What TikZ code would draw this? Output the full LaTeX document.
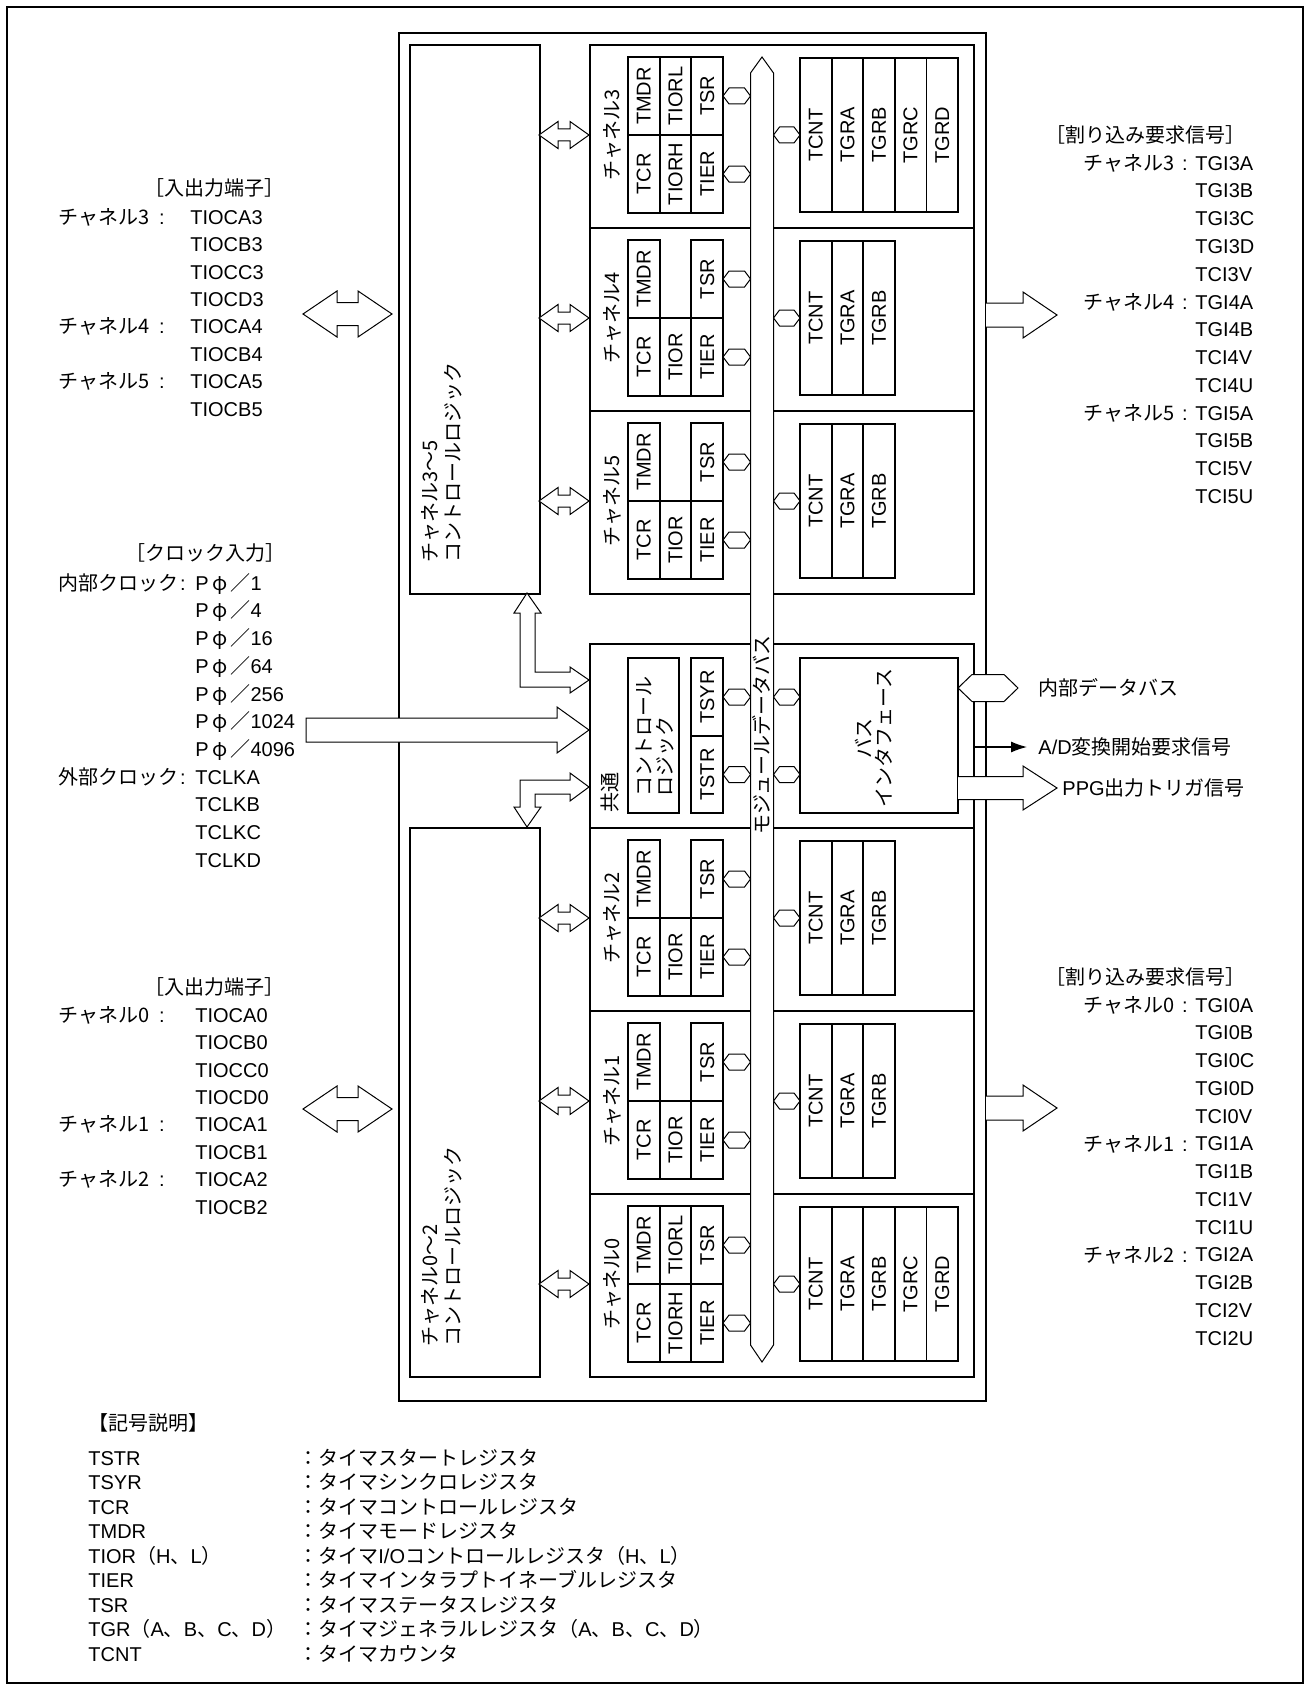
\documentclass[tikz,border=0pt]{standalone}
\usepackage{fontspec}
\setmainfont{Liberation Sans}
\newfontfamily\jp{Noto Sans CJK JP}
\usetikzlibrary{arrows.meta}

\tikzset{
  px/.style 2 args={minimum width=#1*0.5pt, minimum height=#2*0.5pt},
  box/.style={draw, line width=1pt, inner sep=0pt},
  reg/.style={draw, line width=0.9pt, rotate=90, inner sep=0pt},
  thinl/.style={line width=0.5pt},
  rtxt/.style={rotate=90, inner sep=0pt},
  lst/.style={anchor=west, inner sep=0pt, text height=7.2pt, text depth=0pt},
  hdr/.style={inner sep=0pt, text height=7.2pt, text depth=0pt},
}
% small bus tap: x1, x2, y
\newcommand\hexcon[3]{\draw[thinl, fill=white] (#1,{#3}) -- ({#1+6},{#3-8}) -- ({#2-6},{#3-8}) -- (#2,{#3}) -- ({#2-6},{#3+8}) -- ({#1+6},{#3+8}) -- cycle;}
% hollow two-way arrow: x1, x2, y, head length, head half, shaft half
\newcommand\dblarr[6]{\draw[thinl, fill=white] (#1,{#3}) -- ({#1+#4},{#3-#5}) -- ({#1+#4},{#3-#6}) -- ({#2-#4},{#3-#6}) -- ({#2-#4},{#3-#5}) -- (#2,{#3}) -- ({#2-#4},{#3+#5}) -- ({#2-#4},{#3+#6}) -- ({#1+#4},{#3+#6}) -- ({#1+#4},{#3+#5}) -- cycle;}

\begin{document}
\begin{tikzpicture}[x=0.5pt, y=-0.5pt, every node/.style={font=\fontsize{10}{12}\selectfont}]
\fill[white] (0,0) rectangle (1310,1686);
\useasboundingbox (0,0) rectangle (1310,1686);
\draw[line width=1pt] (7,7) rectangle (1303,1683);
% TPU block and the two control logic boxes
\node[box, px={587}{1368}, anchor=north west] (tpu) at (398,32) {};
\node[box, px={130}{549}, anchor=north west] (ctlA) at (409,44) {};
\node[box, px={130}{549}, anchor=north west] (ctlB) at (409,827) {};
\node[rtxt, anchor=west, align=left, font={\jp\fontsize{10}{11.5}\selectfont}] (ctlAtxt) at (441.5,563) {チャネル3〜5\\コントロールロジック};
\node[rtxt, anchor=west, align=left, font={\jp\fontsize{10}{11.5}\selectfont}] (ctlBtxt) at (441.5,1347) {チャネル0〜2\\コントロールロジック};
% channel sections
\foreach \n/\T/\full in {3/44/1,4/227/0,5/410/0,2/827/0,1/1010/0,0/1193/1}{
  \node[box, px={384}{183}, anchor=north west] (sec\n) at (589,\T) {};
  \node[rtxt] (lab\n) at (612,{\T+91}) {\jp チャネル\n};
  \node[reg, px={78}{31.7}] (tmdr\n) at (643.8,{\T+52}) {TMDR};
  \node[reg, px={78}{31.7}] (tcr\n) at (643.8,{\T+130}) {TCR};
  \node[reg, px={78}{31.7}] (tsr\n) at (707.2,{\T+52}) {TSR};
  \node[reg, px={78}{31.7}] (tier\n) at (707.2,{\T+130}) {TIER};
  \ifnum\full=1
    \node[reg, px={78}{31.7}] (tiorl\n) at (675.5,{\T+52}) {TIORL};
    \node[reg, px={78}{31.7}] (tiorh\n) at (675.5,{\T+130}) {TIORH};
    \def\tgrs{TCNT,TGRA,TGRB,TGRC,TGRD}
  \else
    \node[reg, px={78}{31.7}] (tior\n) at (675.5,{\T+130}) {TIOR};
    \def\tgrs{TCNT,TGRA,TGRB}
  \fi
  \foreach \r [count=\i] in \tgrs
    \node[reg, px={154}{31.6}] (\r\n) at ({800+31.6*(\i-0.5)},{\T+91}) {\r};
}
% common section
\node[box, px={384}{184}, anchor=north west] (com) at (589,643) {};
\node[rtxt] (comlab) at (610,792) {\jp 共通};
\node[box, px={51}{155}] (clog) at (653.5,735.5) {};
\node[rtxt, anchor=west, align=left, font={\jp\fontsize{10}{10.5}\selectfont}] (clogtxt) at (655,797) {コントロール\\ロジック};
\node[reg, px={77.5}{31.7}] (tsyr) at (707.2,697) {TSYR};
\node[reg, px={77.5}{31.7}] (tstr) at (707.2,774.5) {TSTR};
\node[box, px={158}{155}] (bif) at (879,735.5) {};
\node[rtxt, align=center, font={\jp\fontsize{10}{10}\selectfont}] (biftxt) at (874,738) {バス\\インタフェース};
% module data bus
\draw[thinl, fill=white] (750.5,73) -- (762,57) -- (773.5,73) -- (773.5,1345) -- (762,1362) -- (750.5,1345) -- cycle;
\node[rtxt] (bustxt) at (762,735) {\jp モジュールデータバス};
% taps and links per channel
\foreach \n/\T in {3/44,4/227,5/410,2/827,1/1010,0/1193}{
  \hexcon{723}{750.5}{\T+52}
  \hexcon{723}{750.5}{\T+130}
  \hexcon{773.5}{800}{\T+91}
  \dblarr{539}{589}{\T+91}{19}{13.5}{6}
}
\hexcon{723}{750.5}{697}
\hexcon{723}{750.5}{774.5}
\hexcon{773.5}{800}{697}
\hexcon{773.5}{800}{774.5}
% links from the logic boxes to the common section
\draw[thinl, fill=white] (527,593) -- (541,613) -- (535,613) -- (535,672) -- (570,672) -- (570,667) -- (589,680) -- (570,693) -- (570,687) -- (520,687) -- (520,613) -- (514,613) -- cycle;
\draw[thinl, fill=white] (589,787) -- (570,773) -- (570,780) -- (520,780) -- (520,807) -- (514,807) -- (527,827) -- (541,807) -- (535,807) -- (535,794) -- (570,794) -- (570,801) -- cycle;
% clock input
\draw[thinl, fill=white] (306,718) -- (557,718) -- (557,707) -- (589,730) -- (557,753) -- (557,742) -- (306,742) -- cycle;
% pins
\dblarr{303}{392}{314}{34}{23}{11.5}
\dblarr{303}{392}{1109}{34}{23}{11.5}
% interrupt outputs
\draw[thinl, fill=white] (986,303) -- (1023,303) -- (1023,292) -- (1057,315) -- (1023,338) -- (1023,327) -- (986,327);
\draw[thinl, fill=white] (986,1096) -- (1023,1096) -- (1023,1085) -- (1057,1108) -- (1023,1131) -- (1023,1120) -- (986,1120);
% bus interface outputs
\draw[thinl, fill=white] (958,688) -- (972,674.5) -- (1004,674.5) -- (1018,688) -- (1004,701.5) -- (972,701.5) -- cycle;
\coordinate (adend) at (1027,747);
\draw[line width=0.6pt, -{Latex[length=8pt, width=5.5pt]}] (com.east |- adend) -- (adend);
\draw[thinl, fill=white] (958,776.5) -- (1023,776.5) -- (1023,766) -- (1057,788) -- (1023,810) -- (1023,799.5) -- (958,799.5);
\node[lst] (idb) at (1038,688) {\jp 内部データバス};
\node[lst] (adtxt) at (1038,747) {A/D{\jp 変換開始要求信号}};
\node[lst] (ppg) at (1062,788) {PPG{\jp 出力トリガ信号}};
% I/O pins, channels 3-5
\node[hdr] (pinA) at (214,188) {\jp ［入出力端子］};
\node[lst] (pA3) at (58,217) {\jp チャネル3};
\node[lst] (pA4) at (58,326.6) {\jp チャネル4};
\node[lst] (pA5) at (58,381.4) {\jp チャネル5};
\foreach \y in {217,326.6,381.4} \node[hdr] at (162,\y) {:};
\foreach \t [count=\i from 0] in {TIOCA3,TIOCB3,TIOCC3,TIOCD3,TIOCA4,TIOCB4,TIOCA5,TIOCB5}
  \node[lst] (pa\i) at (190,{217+27.4*\i}) {\t};
% clock inputs
\node[hdr] (clkh) at (205,553) {\jp ［クロック入力］};
\node[lst] (clkin) at (58,583) {\jp 内部クロック};
\node[lst] (clkex) at (58,776.9) {\jp 外部クロック};
\foreach \y in {583,776.9} \node[hdr] at (183,\y) {:};
\foreach \t [count=\i from 0] in {1,4,16,64,256,1024,4096}
  \node[lst] (ck\i) at (195,{583+27.7*\i}) {P\,{\jp φ\,／}\t};
\foreach \t [count=\i from 7] in {TCLKA,TCLKB,TCLKC,TCLKD}
  \node[lst] (ck\i) at (195,{583+27.7*\i}) {\t};
% I/O pins, channels 0-2
\node[hdr] (pinB) at (214,987) {\jp ［入出力端子］};
\node[lst] (pB0) at (58,1015) {\jp チャネル0};
\node[lst] (pB1) at (58,1124.6) {\jp チャネル1};
\node[lst] (pB2) at (58,1179.4) {\jp チャネル2};
\foreach \y in {1015,1124.6,1179.4} \node[hdr] at (162,\y) {:};
\foreach \t [count=\i from 0] in {TIOCA0,TIOCB0,TIOCC0,TIOCD0,TIOCA1,TIOCB1,TIOCA2,TIOCB2}
  \node[lst] (pb\i) at (195,{1015+27.4*\i}) {\t};
% interrupt requests, channels 3-5
\node[hdr] (irqA) at (1145,135) {\jp ［割り込み要求信号］};
\node[lst] (iA3) at (1083,163) {\jp チャネル3};
\node[lst] (iA4) at (1083,301.9) {\jp チャネル4};
\node[lst] (iA5) at (1083,413) {\jp チャネル5};
\foreach \y in {163,301.9,413} \node[hdr] at (1185,\y) {:};
\foreach \t [count=\i from 0] in {TGI3A,TGI3B,TGI3C,TGI3D,TCI3V,TGI4A,TGI4B,TCI4V,TCI4U,TGI5A,TGI5B,TCI5V,TCI5U}
  \node[lst] (ia\i) at (1195,{163+27.77*\i}) {\t};
% interrupt requests, channels 0-2
\node[hdr] (irqB) at (1145,977) {\jp ［割り込み要求信号］};
\node[lst] (iB0) at (1083,1005) {\jp チャネル0};
\node[lst] (iB1) at (1083,1143.8) {\jp チャネル1};
\node[lst] (iB2) at (1083,1254.8) {\jp チャネル2};
\foreach \y in {1005,1143.8,1254.8} \node[hdr] at (1185,\y) {:};
\foreach \t [count=\i from 0] in {TGI0A,TGI0B,TGI0C,TGI0D,TCI0V,TGI1A,TGI1B,TCI1V,TCI1U,TGI2A,TGI2B,TCI2V,TCI2U}
  \node[lst] (ib\i) at (1195,{1005+27.75*\i}) {\t};
% legend
\node[lst] (leg) at (88,1423) {\jp 【記号説明】};
\node[lst] (l1) at (88,1458) {TSTR};
\node[lst] (r1) at (298,1458) {\jp ：タイマスタートレジスタ};
\node[lst] (l2) at (88,1482.5) {TSYR};
\node[lst] (r2) at (298,1482.5) {\jp ：タイマシンクロレジスタ};
\node[lst] (l3) at (88,1507) {TCR};
\node[lst] (r3) at (298,1507) {\jp ：タイマコントロールレジスタ};
\node[lst] (l4) at (88,1531.5) {TMDR};
\node[lst] (r4) at (298,1531.5) {\jp ：タイマモードレジスタ};
\node[lst] (l5) at (88,1556) {TIOR{\jp （}H{\jp 、}L{\jp ）}};
\node[lst] (r5) at (298,1556) {{\jp ：タイマ}I/O{\jp コントロールレジスタ（}H{\jp 、}L{\jp ）}};
\node[lst] (l6) at (88,1580.5) {TIER};
\node[lst] (r6) at (298,1580.5) {\jp ：タイマインタラプトイネーブルレジスタ};
\node[lst] (l7) at (88,1605) {TSR};
\node[lst] (r7) at (298,1605) {\jp ：タイマステータスレジスタ};
\node[lst] (l8) at (88,1629.5) {TGR{\jp （}A{\jp 、}B{\jp 、}C{\jp 、}D{\jp ）}};
\node[lst] (r8) at (298,1629.5) {{\jp ：タイマジェネラルレジスタ（}A{\jp 、}B{\jp 、}C{\jp 、}D{\jp ）}};
\node[lst] (l9) at (88,1654) {TCNT};
\node[lst] (r9) at (298,1654) {\jp ：タイマカウンタ};
\end{tikzpicture}
\end{document}
